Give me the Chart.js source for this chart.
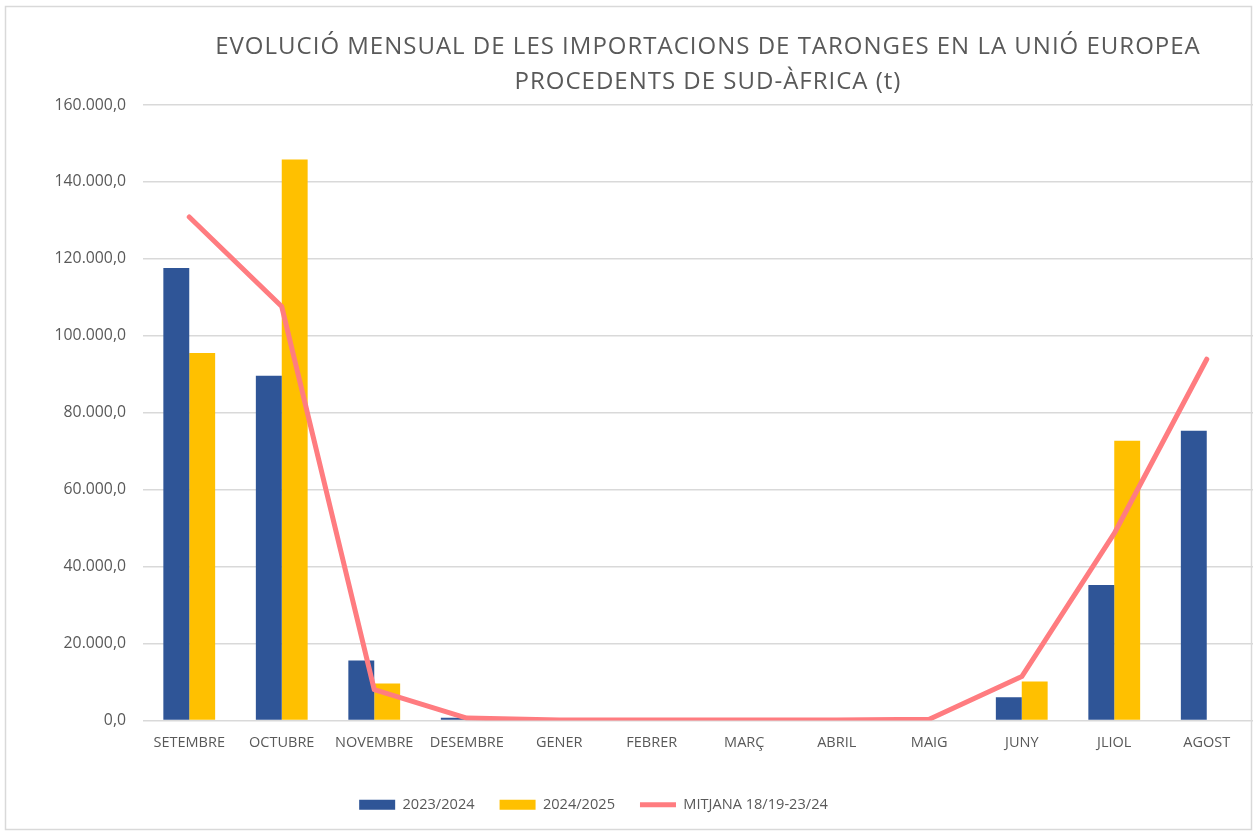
<!DOCTYPE html>
<html>
<head>
<meta charset="utf-8">
<script src="https://cdn.jsdelivr.net/npm/chart.js@4.4.1/dist/chart.umd.min.js"></script>
<style>
  html, body { margin: 0; padding: 0; background: #fff; overflow: hidden; }
  canvas { display: block; }
</style>
</head>
<body>
<canvas id="grafic" width="1253" height="832"></canvas>
<script>
// dades llegides del gràfic (tones)
const mesos = ["SETEMBRE", "OCTUBRE", "NOVEMBRE", "DESEMBRE", "GENER", "FEBRER", "MARÇ", "ABRIL", "MAIG", "JUNY", "JLIOL", "AGOST"];
const campanya2324 = [117600, 89600, 15600, 700, null, null, null, null, null, 6000, 35200, 75300];
const campanya2425 = [95500, 145800, 9600, null, null, null, null, null, null, 10100, 72700, null];
const mitjana = [130900, 107600, 8000, 600, 100, 100, 100, 100, 300, 11400, 48600, 93900];
const titol = ["EVOLUCIÓ MENSUAL DE LES IMPORTACIONS DE TARONGES EN LA UNIÓ EUROPEA", "PROCEDENTS DE SUD-ÀFRICA (t)"];

const gris = "#595959";
const tipus = "'Open Sans', 'Noto Sans', sans-serif";

// format 160.000,0
function formatNum(v) {
  const s = Math.round(v).toString().replace(/\B(?=(\d{3})+(?!\d))/g, ".");
  return s + ",0";
}

// vora del gràfic, títol centrat sobre l'àrea de dibuix i llegenda desplaçada
const marc = {
  id: "marc",
  afterLayout(chart) {
    const lg = chart.legend;
    lg.left -= 33; lg.right -= 33;
    lg.top -= 10; lg.bottom -= 10;
  },
  beforeDraw(chart) {
    const ctx = chart.ctx;
    ctx.save();
    ctx.strokeStyle = "#d9d9d9";
    ctx.lineWidth = 1.5;
    ctx.strokeRect(5.5, 6.5, 1246, 823);
    ctx.restore();
  },
  afterDraw(chart) {
    const ctx = chart.ctx;
    const a = chart.chartArea;
    const cx = (a.left + a.right) / 2 + 10;
    ctx.save();
    ctx.fillStyle = gris;
    ctx.font = "24px " + tipus;
    ctx.letterSpacing = "1px";
    ctx.textAlign = "center";
    ctx.textBaseline = "middle";
    ctx.fillText(titol[0], cx, 47);
    ctx.fillText(titol[1], cx, 82);
    ctx.restore();
  }
};

new Chart(document.getElementById("grafic"), {
  type: "bar",
  data: {
    labels: mesos,
    datasets: [
      {
        label: "2023/2024",
        data: campanya2324,
        backgroundColor: "#2F5597",
        pointStyle: "rect",
        order: 1
      },
      {
        label: "2024/2025",
        data: campanya2425,
        backgroundColor: "#FFC000",
        pointStyle: "rect",
        order: 1
      },
      {
        type: "line",
        label: "MITJANA 18/19-23/24",
        data: mitjana,
        borderColor: "#FF7C80",
        backgroundColor: "#FF7C80",
        borderWidth: 5,
        borderJoinStyle: "round",
        borderCapStyle: "round",
        pointRadius: 0,
        pointStyle: "line",
        tension: 0,
        order: 0
      }
    ]
  },
  options: {
    responsive: false,
    animation: false,
    devicePixelRatio: 1,
    layout: { padding: { top: 105, right: 0, bottom: 0, left: 0 } },
    datasets: {
      bar: { barPercentage: 1, categoryPercentage: 0.56 }
    },
    scales: {
      x: {
        grid: { display: false, drawTicks: false },
        border: { display: false },
        ticks: { color: gris, font: { family: tipus, size: 14.5 }, padding: 14, maxRotation: 0, autoSkip: false },
        afterFit(s) { s.height = 62; }
      },
      y: {
        min: 0,
        max: 160000,
        grid: { color: "#d9d9d9", lineWidth: 1.5, drawTicks: false },
        border: { display: false },
        ticks: {
          stepSize: 20000,
          color: gris,
          font: { family: tipus, size: 15.8 },
          padding: 17,
          callback: v => formatNum(v)
        },
        afterFit(s) { s.width = 143; }
      }
    },
    plugins: {
      title: { display: false },
      tooltip: { enabled: false },
      legend: {
        position: "bottom",
        labels: {
          usePointStyle: true,
          pointStyleWidth: 36,
          boxHeight: 10,
          color: gris,
          font: { family: tipus, size: 14.6 },
          padding: 25,
          sort: (a, b) => a.datasetIndex - b.datasetIndex
        }
      }
    }
  },
  plugins: [marc]
});
</script>
</body>
</html>
